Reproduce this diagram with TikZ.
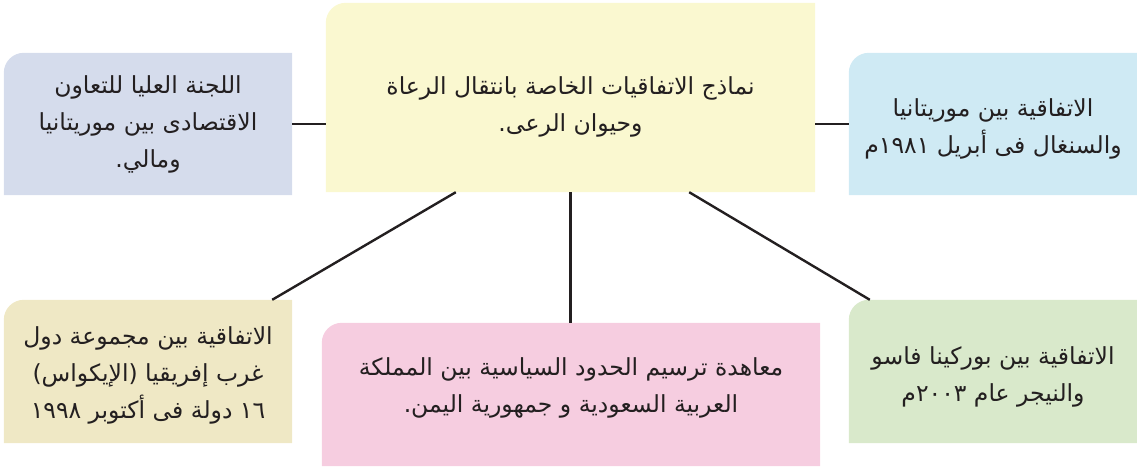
\documentclass[tikz,border=0pt]{standalone}
\usepackage{fontspec}
\usetikzlibrary{backgrounds}
\TeXXeTstate=1
\newfontfamily\arabicfont[Script=Arabic]{DejaVu Sans}
\newcommand{\ar}[1]{{\arabicfont #1}}
% first line with extra height (moves the text block down by half of #1)
\newcommand{\ardn}[2]{\raisebox{0pt}[\dimexpr\height+#1\relax]{\ar{#2}}}
% last line with extra depth (moves the text block up by half of #1)
\newcommand{\arup}[2]{\raisebox{0pt}[\height][\dimexpr\depth+#1\relax]{\ar{#2}}}
\definecolor{txt}{HTML}{231F20}
\definecolor{cyellow}{HTML}{FAF8D0}
\definecolor{cgray}{HTML}{D5DCEC}
\definecolor{cblue}{HTML}{CFEAF4}
\definecolor{ctan}{HTML}{EFE8C5}
\definecolor{cpink}{HTML}{F6CDE0}
\definecolor{cgreen}{HTML}{D9E9CB}
\tikzset{
  box/.style={inner sep=0pt, align=center, text=txt,
    font=\fontsize{23.5}{37}\selectfont},
  conn/.style={draw=txt, line width=2.4pt},
}
\newcommand{\boxfill}[2]{%
  \fill[#2] (#1.south west) [rounded corners=20pt] -- (#1.north west) [sharp corners] -- (#1.north east) -- (#1.south east) -- cycle;}
\begin{document}
\begin{tikzpicture}[x=1pt,y=-1pt]
\useasboundingbox (0,0) rectangle (1137,469);
% nodes
\node[box, minimum width=489pt, minimum height=189pt] (C) at (570.5,97.5)
  {\ardn{18pt}{\beginR نماذج الاتفاقيات الخاصة بانتقال الرعاة\endR}\\\ar{\beginR وحيوان الرعى.\endR}};
\node[box, minimum width=288pt, minimum height=142pt] (L) at (148,124)
  {\ar{\beginR اللجنة العليا للتعاون\endR}\\\ar{\beginR الاقتصادى بين موريتانيا\endR}\\\ar{\beginR ومالي.\endR}};
\node[box, minimum width=288pt, minimum height=142pt] (R) at (993,124)
  {\ardn{10pt}{\beginR الاتفاقية بين موريتانيا\endR}\\\ar{\beginR والسنغال فى أبريل ١٩٨١م\endR}};
\node[box, minimum width=288pt, minimum height=143pt] (BL) at (148,371.5)
  {\ardn{8pt}{\beginR الاتفاقية بين مجموعة دول\endR}\\\ar{\beginR غرب إفريقيا (الإيكواس)\endR}\\\ar{\beginR ١٦ دولة فى أكتوبر ١٩٩٨\endR}};
\node[box, minimum width=498pt, minimum height=143pt] (BM) at (571,394.5)
  {\ar{\beginR معاهدة ترسيم الحدود السياسية بين المملكة\endR}\\\arup{14pt}{\beginR العربية السعودية و جمهورية اليمن.\endR}};
\node[box, minimum width=288pt, minimum height=143pt] (BR) at (993,371.5)
  {\ardn{10pt}{\beginR الاتفاقية بين بوركينا فاسو\endR}\\\ar{\beginR والنيجر عام ٢٠٠٣م\endR}};
% fills
\begin{scope}[on background layer]
  \boxfill{C}{cyellow}
  \boxfill{L}{cgray}
  \boxfill{R}{cblue}
  \boxfill{BL}{ctan}
  \boxfill{BM}{cpink}
  \boxfill{BR}{cgreen}
\end{scope}
% connector ends
\coordinate (c1) at ([xshift=130pt]C.south west);
\coordinate (b1) at ([xshift=-20pt]BL.north east);
\coordinate (c3) at ([xshift=-126pt]C.south east);
\coordinate (b3) at ([xshift=21pt]BR.north west);
\draw[conn] (L.east) -- (L.east -| C.west);
\draw[conn] (R.west) -- (R.west -| C.east);
\draw[conn] (c1) -- (b1);
\draw[conn] (C.south) -- (C.south |- BM.north);
\draw[conn] (c3) -- (b3);
\end{tikzpicture}
\end{document}
